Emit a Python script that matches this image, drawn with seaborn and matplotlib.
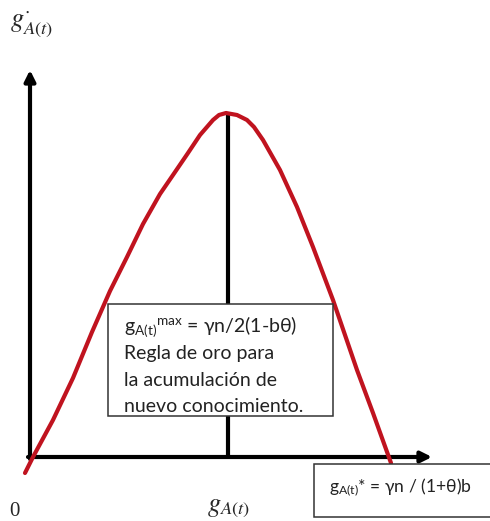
import matplotlib
matplotlib.use("Agg")
import matplotlib.pyplot as plt
import seaborn as sns
import pandas as pd
from matplotlib.patches import Rectangle

sns.set_theme(style="white")
plt.rcParams['font.family'] = ['Lato', 'DejaVu Sans']
plt.rcParams['mathtext.fontset'] = 'custom'
plt.rcParams['mathtext.rm'] = 'Lato'
plt.rcParams['mathtext.it'] = 'Lato:italic'

# Curve (pixel-space coordinates of the diagram)
curve_x = [25, 33, 53, 73, 92, 110, 127, 143, 160, 173, 188, 200, 213, 219, 226, 237, 247, 254, 263, 280, 297, 313, 333, 357, 373, 391]
curve_y = [473, 457, 420, 378, 332, 291, 257, 224, 194, 175, 153, 135, 120, 115, 113, 115, 120, 127, 140, 170, 207, 247, 300, 370, 413, 463]

box1_lines = [r"g$_{\mathrm{A(t)}}{}^{\mathrm{max}}$ = γn/2(1-bθ)",
              "Regla de oro para",
              "la acumulación de",
              "nuevo conocimiento."]
box2_text = r"g$_{\mathrm{A(t)}}$* = γn / (1+θ)b"
y_label = r"$g^{\cdot}_{A(t)}$"
x_label = r"$g_{A(t)}$"
origin_label = "0"

W, H = 490, 521
fig = plt.figure(figsize=(W / 100, H / 100), dpi=100)
ax = fig.add_axes([0, 0, 1, 1])

red = "#C0131F"

# axes arrows
ax.annotate("", xy=(30, 70), xytext=(30, 459),
            arrowprops=dict(arrowstyle="-|>", lw=3, color="black", mutation_scale=16,
                            shrinkA=0, shrinkB=0))
ax.annotate("", xy=(432, 457), xytext=(28, 457),
            arrowprops=dict(arrowstyle="-|>", lw=3, color="black", mutation_scale=16,
                            shrinkA=0, shrinkB=0))
# vertical line at max
ax.plot([228, 228], [113, 457], color="black", lw=3, solid_capstyle="butt", zorder=2)

df = pd.DataFrame({"x": curve_x, "y": curve_y})
sns.lineplot(data=df, x="x", y="y", sort=False, color=red, lw=3, ax=ax, zorder=3)
ax.lines[-1].set_solid_capstyle("round")
ax.lines[-1].set_solid_joinstyle("round")
ax.set_xlim(0, W)
ax.set_ylim(H, 0)
ax.axis("off")

# box 1
r1 = Rectangle((108, 304), 225, 112, facecolor="white", edgecolor="#333333", lw=1.1, zorder=4)
ax.add_patch(r1)
for line, yy in zip(box1_lines, [327, 354, 380, 406]):
    t = ax.text(124, yy, line, fontsize=14, color="#222222", va="center", ha="left",
                math_fontfamily="custom", zorder=5)
    t.set_clip_path(r1)

# box 2
r2 = Rectangle((314, 464), 180, 53, facecolor="white", edgecolor="#333333", lw=1.1, zorder=4)
ax.add_patch(r2)
ax.text(329, 488, box2_text, fontsize=12.6, color="#222222", va="center", ha="left",
        math_fontfamily="custom", zorder=5)

# labels
ax.text(10, 24, y_label, fontsize=19, va="center", ha="left", math_fontfamily="stix")
ax.text(207, 507, x_label, fontsize=19, va="center", ha="left", math_fontfamily="stix")
ax.text(9, 512, origin_label, fontsize=15, va="center", ha="left", family="Liberation Serif")

fig.savefig("out.png", dpi=100)
